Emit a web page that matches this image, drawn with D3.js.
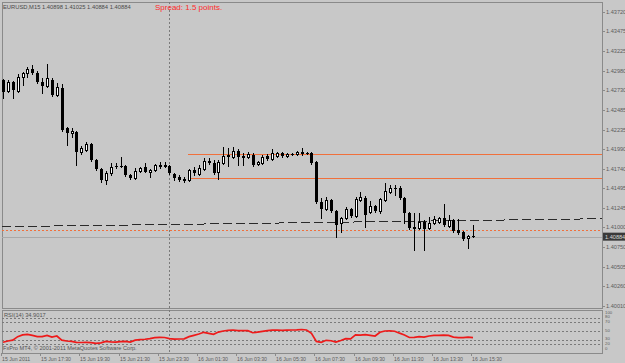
<!DOCTYPE html>
<html>
<head>
<meta charset="utf-8">
<script src="https://cdn.jsdelivr.net/npm/d3@7"></script>
<style>
  body { margin: 0; background: #c8c8c8; }
  svg { display: block; }
  text { font-family: "Liberation Sans", Arial, sans-serif; }
</style>
</head>
<body>
<svg width="625" height="363"></svg>
<script>
// chart texts
const titleText = "EURUSD,M15  1.40898 1.41025 1.40884 1.40884";
const spreadText = "Spread: 1.5 points.";
const rsiTitle = "RSI(14) 34.9017";
const copyText = "FxPro MT4, \u00a9 2001-2011 MetaQuotes Software Corp.";

// M15 bars, 15 Jun 15:30 .. 16 Jun 15:30
const opens = [1.42859,1.42720,1.42834,1.42720,1.42897,1.42948,1.42998,1.42948,1.42834,1.42784,
1.42859,1.42670,1.42758,1.42253,1.42190,1.42203,1.41950,1.41976,1.42051,1.41849,
1.41736,1.41597,1.41685,1.41774,1.41774,1.41774,1.41660,1.41622,1.41710,1.41761,
1.41698,1.41723,1.41786,1.41774,1.41774,1.41673,1.41635,1.41609,1.41597,1.41723,
1.41673,1.41736,1.41837,1.41811,1.41698,1.41811,1.41900,1.41887,1.41963,1.41887,
1.41887,1.41912,1.41799,1.41811,1.41900,1.41862,1.41900,1.41938,1.41900,1.41925,
1.41925,1.41950,1.41938,1.41938,1.41824,1.41319,1.41231,1.41344,1.41206,1.41054,
1.41117,1.41231,1.41142,1.41344,1.41370,1.41193,1.41269,1.41206,1.41344,1.41445,
1.41496,1.41496,1.41370,1.41180,1.40991,1.40991,1.41067,1.40991,1.41054,1.41067,
1.41117,1.41016,1.41092,1.40966,1.40940,1.40865,1.40898];
const highs = [1.42872,1.42859,1.42847,1.42935,1.42960,1.43023,1.43049,1.42973,1.42885,1.43061,
1.42885,1.42821,1.42809,1.42266,1.42253,1.42215,1.42026,1.42077,1.42064,1.41862,
1.41748,1.41710,1.41811,1.41811,1.41887,1.41786,1.41673,1.41748,1.41761,1.41811,
1.41736,1.41799,1.41824,1.41824,1.41786,1.41685,1.41660,1.41635,1.41736,1.41761,
1.41786,1.41875,1.41875,1.41849,1.41849,1.42013,1.42001,1.42013,1.41988,1.41938,
1.41950,1.41938,1.41837,1.41912,1.41925,1.41988,1.41950,1.41950,1.41938,1.41938,
1.41963,1.42001,1.41950,1.41950,1.41837,1.41370,1.41382,1.41357,1.41218,1.41130,
1.41256,1.41243,1.41382,1.41445,1.41395,1.41332,1.41281,1.41370,1.41559,1.41534,
1.41534,1.41521,1.41382,1.41193,1.41180,1.41180,1.41092,1.41130,1.41142,1.41130,
1.41294,1.41155,1.41105,1.41105,1.40953,1.40905,1.41025];
const lows = [1.42632,1.42708,1.42632,1.42708,1.42796,1.42897,1.42935,1.42821,1.42695,1.42771,
1.42657,1.42657,1.42215,1.42039,1.42140,1.41786,1.41925,1.41963,1.41837,1.41723,
1.41572,1.41546,1.41660,1.41748,1.41761,1.41647,1.41609,1.41609,1.41698,1.41698,
1.41635,1.41710,1.41748,1.41761,1.41673,1.41597,1.41584,1.41572,1.41584,1.41660,
1.41660,1.41723,1.41799,1.41673,1.41609,1.41799,1.41774,1.41875,1.41786,1.41786,
1.41875,1.41774,1.41786,1.41799,1.41849,1.41849,1.41887,1.41887,1.41887,1.41912,
1.41912,1.41912,1.41925,1.41799,1.41307,1.41117,1.41218,1.41193,1.40877,1.40940,
1.41105,1.41130,1.41130,1.41332,1.41004,1.41180,1.41193,1.41180,1.41332,1.41433,
1.41408,1.41357,1.41054,1.40978,1.40713,1.40978,1.40713,1.40978,1.41041,1.41054,
1.41016,1.41004,1.40940,1.40915,1.40839,1.40738,1.40884];
const closes = [1.42708,1.42834,1.42733,1.42897,1.42948,1.42998,1.42948,1.42834,1.42784,1.42885,
1.42670,1.42771,1.42228,1.42190,1.42215,1.41950,1.42001,1.42051,1.41849,1.41736,
1.41597,1.41685,1.41761,1.41761,1.41770,1.41660,1.41622,1.41710,1.41748,1.41703,
1.41723,1.41786,1.41761,1.41786,1.41685,1.41622,1.41597,1.41584,1.41723,1.41685,
1.41748,1.41837,1.41811,1.41685,1.41824,1.41900,1.41912,1.41963,1.41887,1.41900,
1.41925,1.41786,1.41824,1.41887,1.41862,1.41938,1.41938,1.41900,1.41925,1.41921,
1.41950,1.41925,1.41934,1.41811,1.41319,1.41231,1.41344,1.41206,1.41029,1.41117,
1.41231,1.41142,1.41357,1.41382,1.41155,1.41269,1.41206,1.41357,1.41458,1.41496,
1.41492,1.41370,1.41180,1.40991,1.41004,1.41067,1.40978,1.41054,1.41105,1.41117,
1.41029,1.41092,1.40953,1.40928,1.40852,1.40895,1.40884];
const rsi = [24,27,29,37,41,42,40,37,37,40,
36,38.5,29,27,26,24,23.5,24,23,21.6,
22.5,26,25,24.6,25.5,26,24.6,29,30,31,
32.5,34.6,35.5,35,32.5,31.5,31.6,32,37,40,
43,47,44.7,42.4,47.5,50,51.5,52.3,51,50.7,
50.7,46,47.5,49,50.7,52,52,51.5,52,52.3,
52.5,53.5,52.3,44.7,26,24,28.5,27.6,24.6,28,
32.5,32,41,40.5,41.5,40,38.5,47,50,50.5,
49.5,45,41,35,35.5,37,36,38.5,40,40,
40.5,40,36,34.6,34.6,36,34.9017];

const timeLabels = ["15 Jun 2011","15 Jun 17:30","15 Jun 19:30","15 Jun 21:30","15 Jun 23:30",
  "16 Jun 01:30","16 Jun 03:30","16 Jun 05:30","16 Jun 07:30","16 Jun 09:30",
  "16 Jun 11:30","16 Jun 13:30","16 Jun 15:30"];
const barsPerLabel = 8;
const dayStartBar = 34; // 16 Jun 00:00
const priceTicks = ["1.43720","1.43475","1.43225","1.42980","1.42730","1.42485","1.42235","1.41990",
  "1.41740","1.41495","1.41245","1.41000","1.40750","1.40505","1.40260","1.40010"];
const rsiLevels = [20, 30, 50, 70, 80];
const rsiLabels = [100, 80, 70, 50, 30, 20, 0];

// drawn objects
const orangeLevels = [1.41922, 1.41619];
const orangeFromBar = 38;
const dottedLevel = 1.40972;
const bidPrice = 1.40884;
const trendBars = [0, 96];
const trendPrices = [1.41010, 1.41089];

const W = 625, H = 363;
const left = 2, right = 602;
const mainTop = 2, mainBottom = 308;
const rsiTop = 310, rsiBottom = 353;

const svg = d3.select("svg");
svg.append("rect").attr("width", W).attr("height", H).attr("fill", "#c8c8c8");

const x = d3.scaleLinear().domain([0, opens.length - 1]).range([3, 473]);
const y = d3.scaleLinear().domain([1.40010, 1.43720]).range([305.9, 12]);
const yr = d3.scaleLinear().domain([0, 100]).range([352.7, 309.3]);

const frame = svg.append("g").attr("fill", "none").attr("stroke", "#8a8a8a").attr("shape-rendering", "crispEdges");
frame.append("rect").attr("x", left + 0.5).attr("y", mainTop + 0.5)
  .attr("width", right - left).attr("height", mainBottom - mainTop);
frame.append("rect").attr("x", left + 0.5).attr("y", rsiTop + 0.5)
  .attr("width", right - left).attr("height", rsiBottom - rsiTop);

// day separator
svg.append("line")
  .attr("x1", Math.round(x(dayStartBar)) + 0.5).attr("x2", Math.round(x(dayStartBar)) + 0.5)
  .attr("y1", mainTop).attr("y2", rsiBottom)
  .attr("stroke", "#7a7a7a").attr("stroke-dasharray", "2,2").attr("shape-rendering", "crispEdges");

// bid line
svg.append("line").attr("x1", left).attr("x2", right)
  .attr("y1", Math.round(y(bidPrice)) + 0.5).attr("y2", Math.round(y(bidPrice)) + 0.5)
  .attr("stroke", "#a9a9a9").attr("shape-rendering", "crispEdges");

// orange dotted level
svg.append("line").attr("x1", left).attr("x2", right)
  .attr("y1", Math.round(y(dottedLevel)) + 0.5).attr("y2", Math.round(y(dottedLevel)) + 0.5)
  .attr("stroke", "#f0703c").attr("stroke-dasharray", "2,2").attr("shape-rendering", "crispEdges");

// orange lines
svg.selectAll(".lvl").data(orangeLevels).enter().append("line")
  .attr("x1", x(orangeFromBar) - 1).attr("x2", right)
  .attr("y1", d => Math.round(y(d)) + 0.5).attr("y2", d => Math.round(y(d)) + 0.5)
  .attr("stroke", "#f0703c").attr("shape-rendering", "crispEdges");

// dashed trend line, extended to both edges
const slope = (trendPrices[1] - trendPrices[0]) / (trendBars[1] - trendBars[0]);
const priceAt = b => trendPrices[0] + (b - trendBars[0]) * slope;
const bLeft = x.invert(left), bRight = x.invert(right);
svg.append("line")
  .attr("x1", left).attr("y1", y(priceAt(bLeft)))
  .attr("x2", right).attr("y2", y(priceAt(bRight)))
  .attr("stroke", "#2a2a2a").attr("stroke-dasharray", "9,4").attr("shape-rendering", "crispEdges");

// candles
const bars = opens.map((o, i) => ({ i, o, h: highs[i], l: lows[i], c: closes[i] }));
const cg = svg.append("g").attr("shape-rendering", "crispEdges");
cg.selectAll(".wick").data(bars).enter().append("line")
  .attr("x1", d => Math.round(x(d.i)) + 0.5).attr("x2", d => Math.round(x(d.i)) + 0.5)
  .attr("y1", d => Math.round(y(d.h))).attr("y2", d => Math.round(y(d.l)) + 1)
  .attr("stroke", "#000");
cg.selectAll(".body").data(bars).enter().append("rect")
  .attr("x", d => Math.round(x(d.i)) - 1 + (d.c >= d.o ? 0.5 : 0))
  .attr("y", d => Math.round(y(Math.max(d.o, d.c))) + (d.c >= d.o ? 0.5 : 0))
  .attr("width", d => d.c >= d.o ? 2 : 3)
  .attr("height", d => {
    const hgt = Math.round(y(Math.min(d.o, d.c))) - Math.round(y(Math.max(d.o, d.c)));
    return d.c >= d.o ? Math.max(0, hgt) : Math.max(1, hgt);
  })
  .attr("fill", d => d.c >= d.o ? "#fff" : "#000")
  .attr("stroke", d => d.c >= d.o ? "#000" : "none");

// price axis
const pa = svg.append("g");
pa.selectAll("line").data(priceTicks).enter().append("line")
  .attr("x1", right).attr("x2", right + 3)
  .attr("y1", d => Math.round(y(+d)) + 0.5).attr("y2", d => Math.round(y(+d)) + 0.5)
  .attr("stroke", "#8a8a8a").attr("shape-rendering", "crispEdges");
pa.selectAll("text").data(priceTicks).enter().append("text")
  .attr("x", right + 4).attr("y", d => y(+d) + 2)
  .attr("font-size", 5.6).attr("fill", "#5c5c5c").text(d => d);

// bid box
svg.append("rect").attr("x", right + 1).attr("y", y(bidPrice) - 4)
  .attr("width", W - right).attr("height", 8).attr("fill", "#3a3a3a");
svg.append("text").attr("x", right + 3).attr("y", y(bidPrice) + 2)
  .attr("font-size", 5.6).attr("fill", "#d8d8d8").text(bidPrice.toFixed(5));

// RSI panel
svg.selectAll(".rl").data(rsiLevels).enter().append("line")
  .attr("x1", left).attr("x2", right)
  .attr("y1", d => Math.round(yr(d)) + 0.5).attr("y2", d => Math.round(yr(d)) + 0.5)
  .attr("stroke", "#7a7a7a").attr("stroke-dasharray", "2,2").attr("shape-rendering", "crispEdges");
svg.append("path").datum(rsi)
  .attr("d", d3.line().x((d, i) => x(i)).y(d => yr(d)))
  .attr("fill", "none").attr("stroke", "#ee1a1a").attr("stroke-width", 1.7);
svg.selectAll(".rt").data(rsiLabels).enter().append("text")
  .attr("x", right + 3)
  .attr("y", d => Math.min(rsiBottom - 4, Math.max(rsiTop + 3.5, yr(d))) + 0.5)
  .attr("font-size", 4.3).attr("fill", "#5c5c5c").text(d => d);
svg.append("text").attr("x", 4).attr("y", 317).attr("font-size", 5.7)
  .attr("fill", "#555").text(rsiTitle);
svg.append("text").attr("x", 3).attr("y", 350).attr("font-size", 5.6)
  .attr("fill", "#555").text(copyText);

// time axis
const ta = svg.append("g");
ta.selectAll("line").data(timeLabels).enter().append("line")
  .attr("x1", (d, k) => Math.round(x(k * barsPerLabel)) - 1.5)
  .attr("x2", (d, k) => Math.round(x(k * barsPerLabel)) - 1.5)
  .attr("y1", rsiBottom).attr("y2", rsiBottom + 3)
  .attr("stroke", "#8a8a8a").attr("shape-rendering", "crispEdges");
ta.selectAll("text").data(timeLabels).enter().append("text")
  .attr("x", (d, k) => Math.round(x(k * barsPerLabel)) - 1)
  .attr("y", 360.5).attr("font-size", 5.2).attr("fill", "#5c5c5c").text(d => d);

// header
svg.append("text").attr("x", 3).attr("y", 9).attr("font-size", 5.8)
  .attr("fill", "#4a4a4a").text(titleText);
svg.append("text").attr("x", 155).attr("y", 10).attr("font-size", 8)
  .attr("fill", "#ff2b2b").text(spreadText);
</script>
</body>
</html>
